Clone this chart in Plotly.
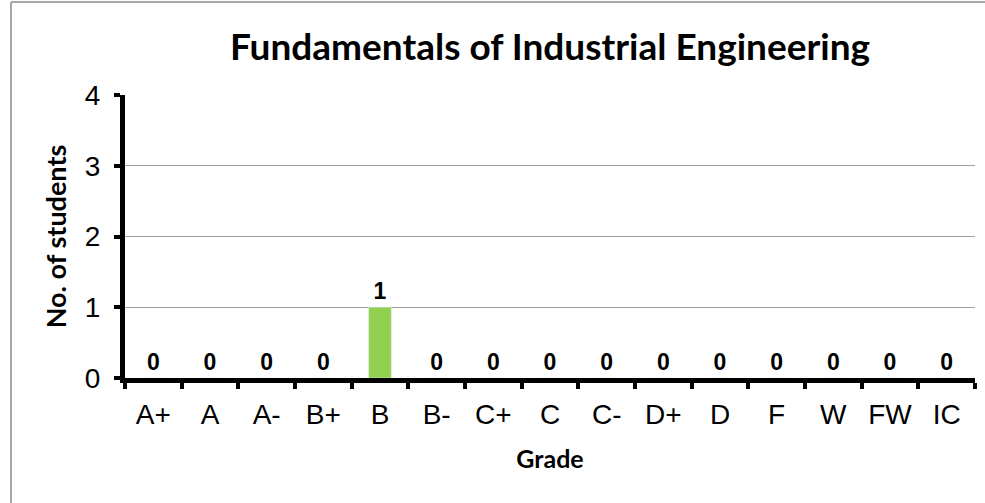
import plotly.graph_objects as go

grades = ["A+", "A", "A-", "B+", "B", "B-", "C+", "C", "C-", "D+", "D", "F", "W", "FW", "IC"]
students = [0, 0, 0, 0, 1, 0, 0, 0, 0, 0, 0, 0, 0, 0, 0]

title = "Fundamentals of Industrial Engineering"
x_title = "Grade"
y_title = "No. of students"

W, H = 985, 503
L, R, T, B = 125, 10, 95, 125
pw, ph = W - L - R, H - T - B


def px_x(p):
    return (p - L) / pw


def px_y(p):
    return (H - B - p) / ph


fig = go.Figure()
fig.add_trace(
    go.Bar(
        x=grades,
        y=students,
        marker_color="#92D050",
        texttemplate="%{y}",
        textposition="outside",
        cliponaxis=False,
        textfont=dict(family="Liberation Sans", size=23, color="black", weight="bold"),
    )
)

border = dict(color="#a6a6a6", width=2)
fig.update_layout(
    width=W,
    height=H,
    margin=dict(l=L, r=R, t=T, b=B),
    paper_bgcolor="white",
    plot_bgcolor="white",
    showlegend=False,
    bargap=0.6,
    title=dict(
        text=title,
        x=0.5,
        xref="paper",
        y=1 - 47 / H,
        yanchor="middle",
        font=dict(family="Lato", size=37, color="black", weight="bold"),
    ),
    xaxis=dict(
        type="category",
        tickson="boundaries",
        showline=True,
        linecolor="black",
        linewidth=5,
        ticks="outside",
        ticklen=6,
        tickwidth=4,
        tickcolor="black",
        showgrid=False,
        ticklabelstandoff=7,
        tickfont=dict(family="Liberation Sans", size=28, color="black"),
        title=dict(
            text=x_title,
            standoff=23,
            font=dict(family="Lato", size=25, color="black", weight="bold"),
        ),
    ),
    yaxis=dict(
        range=[0, 4],
        dtick=1,
        showline=True,
        linecolor="black",
        linewidth=5,
        ticks="outside",
        ticklen=6,
        tickwidth=4,
        tickcolor="black",
        showgrid=True,
        gridcolor="#a0a0a0",
        gridwidth=1,
        zeroline=False,
        ticklabelstandoff=8,
        tickfont=dict(family="Liberation Sans", size=28, color="black"),
        title=dict(
            text=y_title,
            standoff=12,
            font=dict(family="Lato", size=27, color="black", weight="bold"),
        ),
    ),
    shapes=[
        dict(type="line", xref="paper", yref="paper",
             x0=px_x(11), x1=px_x(W + 5), y0=px_y(2), y1=px_y(2), line=border),
        dict(type="line", xref="paper", yref="paper",
             x0=px_x(11), x1=px_x(11), y0=px_y(2), y1=px_y(H + 5), line=border),
    ],
)

fig.write_html(
    "out.html",
    config={"displayModeBar": False},
    post_script="document.body.style.margin='0';",
)
